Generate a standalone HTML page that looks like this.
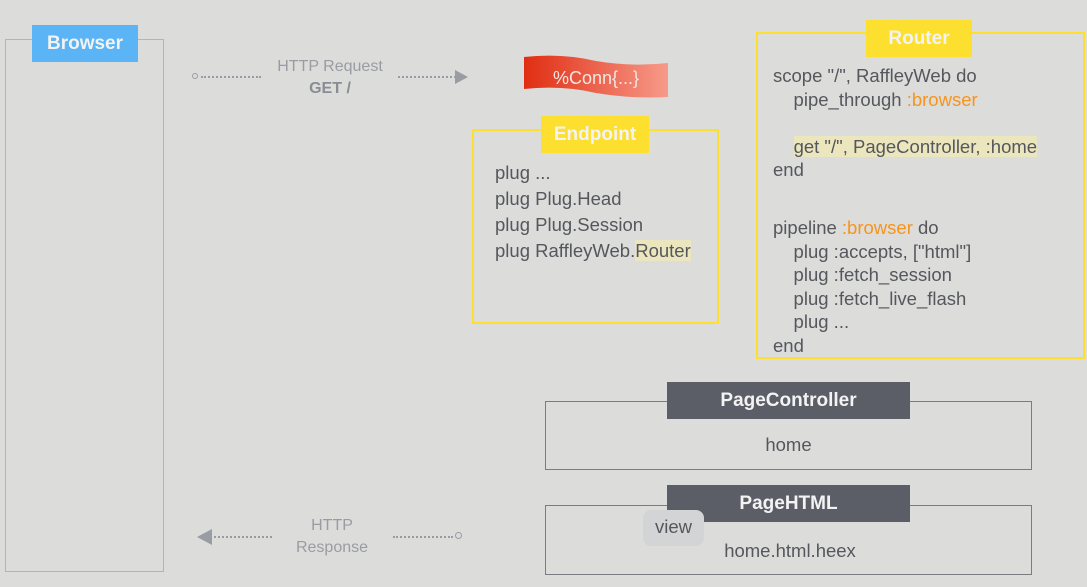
<!DOCTYPE html>
<html><head><meta charset="utf-8"><style>
body{margin:0;width:1087px;height:587px;background:#dcdcdb;position:relative;overflow:hidden;font-family:"Liberation Sans",sans-serif;color:#55575c}
div{position:absolute;box-sizing:border-box}
.lbl{text-align:center;font-weight:bold;font-size:19px;color:#f3f3f3}
.y{background:#fddf2f}
.dk{background:#5b5e66}
.t{font-size:18.5px;white-space:nowrap}
.o{color:#f7941d}
.hl{background:#ece6bf}
</style></head><body>
<div style="left:5px;top:39px;width:159px;height:533px;border:1px solid #8fbde8"></div>
<div class="lbl" style="left:32px;top:25px;width:106px;height:37px;line-height:37px;background:#5ab4f5">Browser</div>

<div style="left:192px;top:73px;width:6px;height:6px;border:1.5px solid #9a9ca3;border-radius:50%"></div>
<div style="left:201px;top:76px;width:60px;border-top:2px dotted #9a9ca3"></div>
<div style="left:398px;top:76px;width:58px;border-top:2px dotted #9a9ca3"></div>
<div style="left:455px;top:70px;width:0;height:0;border-left:13px solid #9a9ca3;border-top:7px solid transparent;border-bottom:7px solid transparent"></div>
<div class="t" style="left:260px;top:58px;width:140px;text-align:center;color:#9a9ca3;font-size:16px">HTTP Request</div>
<div class="t" style="left:260px;top:80px;width:140px;text-align:center;color:#8a8c93;font-size:16px;font-weight:bold">GET /</div>

<svg style="position:absolute;left:522px;top:55px" width="148" height="46"><defs><linearGradient id="g"><stop offset="0" stop-color="#e02e12"/><stop offset="1" stop-color="#f79a8a"/></linearGradient></defs>
<path d="M2 2 Q40 -2 74 6 Q110 12 146 8 L146 42 Q110 44 74 38 Q40 30 2 34Z" fill="url(#g)"/>
<text x="74" y="29" text-anchor="middle" font-size="18" fill="#f5e6e2" font-family="Liberation Sans">%Conn{...}</text></svg>

<div style="left:472px;top:129px;width:247px;height:195px;border:2px solid #fddf2f"></div>
<div class="lbl y" style="left:541px;top:116px;width:108px;height:37px;line-height:37px">Endpoint</div>
<div class="t" style="left:495px;top:160px;line-height:26px">plug ...<br>plug Plug.Head<br>plug Plug.Session<br>plug RaffleyWeb.<span class="hl">Router</span></div>

<div style="left:756px;top:32px;width:329px;height:327px;border:2px solid #fddf2f"></div>
<div class="lbl y" style="left:866px;top:20px;width:106px;height:37px;line-height:37px">Router</div>
<div class="t" style="left:773px;top:64px;line-height:23.5px">scope "/", RaffleyWeb do<br>&nbsp;&nbsp;&nbsp;&nbsp;pipe_through <span class="o">:browser</span><br><br>&nbsp;&nbsp;&nbsp;&nbsp;<span class="hl">get "/", PageController, :home</span><br>end</div>
<div class="t" style="left:773px;top:216px;line-height:23.5px">pipeline <span class="o">:browser</span> do<br>&nbsp;&nbsp;&nbsp;&nbsp;plug :accepts, ["html"]<br>&nbsp;&nbsp;&nbsp;&nbsp;plug :fetch_session<br>&nbsp;&nbsp;&nbsp;&nbsp;plug :fetch_live_flash<br>&nbsp;&nbsp;&nbsp;&nbsp;plug ...<br>end</div>

<div style="left:545px;top:401px;width:487px;height:69px;border:1px solid #7a7c82"></div>
<div class="lbl dk" style="left:667px;top:382px;width:243px;height:37px;line-height:37px">PageController</div>
<div class="t" style="left:545px;top:434px;width:487px;text-align:center">home</div>

<div style="left:545px;top:505px;width:487px;height:70px;border:1px solid #7a7c82"></div>
<div class="lbl dk" style="left:667px;top:485px;width:243px;height:37px;line-height:37px">PageHTML</div>
<div class="t" style="left:643px;top:510px;width:61px;height:36px;line-height:34px;text-align:center;background:#d3d4d6;border-radius:8px">view</div>
<div class="t" style="left:690px;top:540px;width:200px;text-align:center">home.html.heex</div>

<div style="left:197px;top:529px;width:0;height:0;border-right:15px solid #9a9ca3;border-top:8px solid transparent;border-bottom:8px solid transparent"></div>
<div style="left:214px;top:536px;width:58px;border-top:2px dotted #9a9ca3"></div>
<div style="left:393px;top:536px;width:60px;border-top:2px dotted #9a9ca3"></div>
<div style="left:455px;top:532px;width:7px;height:7px;border:1.5px solid #9a9ca3;border-radius:50%"></div>
<div class="t" style="left:272px;top:515px;width:120px;text-align:center;color:#9a9ca3;font-size:16px;line-height:22px">HTTP<br>Response</div>
</body></html>
